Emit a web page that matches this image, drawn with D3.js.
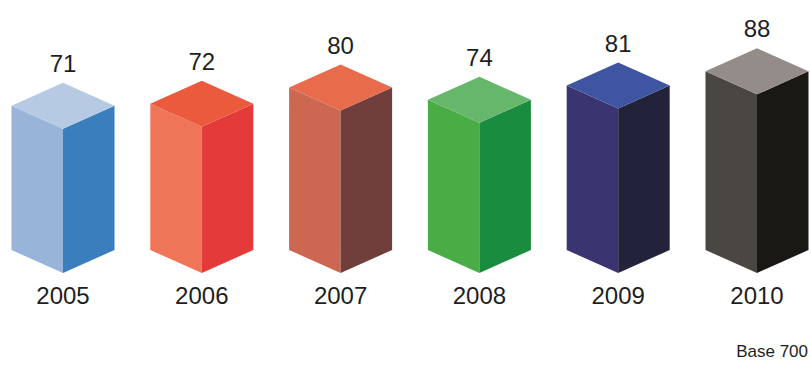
<!DOCTYPE html>
<html>
<head>
<meta charset="utf-8">
<script src="https://cdn.jsdelivr.net/npm/d3@7"></script>
<style>
  html, body { margin: 0; padding: 0; background: #fff; }
  svg { display: block; font-family: "Liberation Sans", Arial, sans-serif; }
</style>
</head>
<body>
<svg id="chart" width="811" height="367"></svg>
<script>
const years = ["2005", "2006", "2007", "2008", "2009", "2010"];
const values = [71, 72, 80, 74, 81, 88];
const leftColors  = ["#98b4d9", "#ef7558", "#cc6851", "#4aac45", "#3a3470", "#4a4641"];
const rightColors = ["#3a7ebd", "#e43a3a", "#703f3b", "#1a8c40", "#23223b", "#191815"];
const topColors   = ["#b6cae4", "#eb5a3c", "#e86b4c", "#66b66b", "#3f55a1", "#938c89"];
const baseNote = "Base 700";

const svg = d3.select("#chart");
const W = 811;
const baseY = 273;     // y of the front-bottom vertex
const halfW = 51.5;    // half width of the box
const dy = 23;         // isometric drop

const x = d3.scalePoint().domain(years).range([63, 757]);
const h = d3.scaleLinear().domain([0, 100]).range([0, 203]);

const data = years.map((y, i) => ({ year: y, value: values[i], i }));

const g = svg.selectAll("g.bar").data(data).join("g").attr("class", "bar");

function pts(arr) { return arr.map(p => p.join(",")).join(" "); }

g.append("polygon")
  .attr("points", d => {
    const cx = x(d.year), yf = baseY - h(d.value);
    return pts([[cx - halfW, yf - dy], [cx, yf], [cx, baseY], [cx - halfW, baseY - dy]]);
  })
  .attr("fill", d => leftColors[d.i]);

g.append("polygon")
  .attr("points", d => {
    const cx = x(d.year), yf = baseY - h(d.value);
    return pts([[cx, yf], [cx + halfW, yf - dy], [cx + halfW, baseY - dy], [cx, baseY]]);
  })
  .attr("fill", d => rightColors[d.i]);

g.append("polygon")
  .attr("points", d => {
    const cx = x(d.year), yf = baseY - h(d.value);
    return pts([[cx, yf - 2 * dy], [cx + halfW, yf - dy], [cx, yf], [cx - halfW, yf - dy]]);
  })
  .attr("fill", d => topColors[d.i]);

g.append("text")
  .attr("x", d => x(d.year))
  .attr("y", d => baseY - h(d.value) - 2 * dy - 11)
  .attr("text-anchor", "middle")
  .attr("font-size", 24)
  .attr("fill", "#1e1e1e")
  .text(d => d.value);

g.append("text")
  .attr("x", d => x(d.year))
  .attr("y", 304)
  .attr("text-anchor", "middle")
  .attr("font-size", 24)
  .attr("fill", "#1e1e1e")
  .text(d => d.year);

svg.append("text")
  .attr("x", 808)
  .attr("y", 357)
  .attr("text-anchor", "end")
  .attr("font-size", 17)
  .attr("fill", "#1e1e1e")
  .text(baseNote);
</script>
</body>
</html>
